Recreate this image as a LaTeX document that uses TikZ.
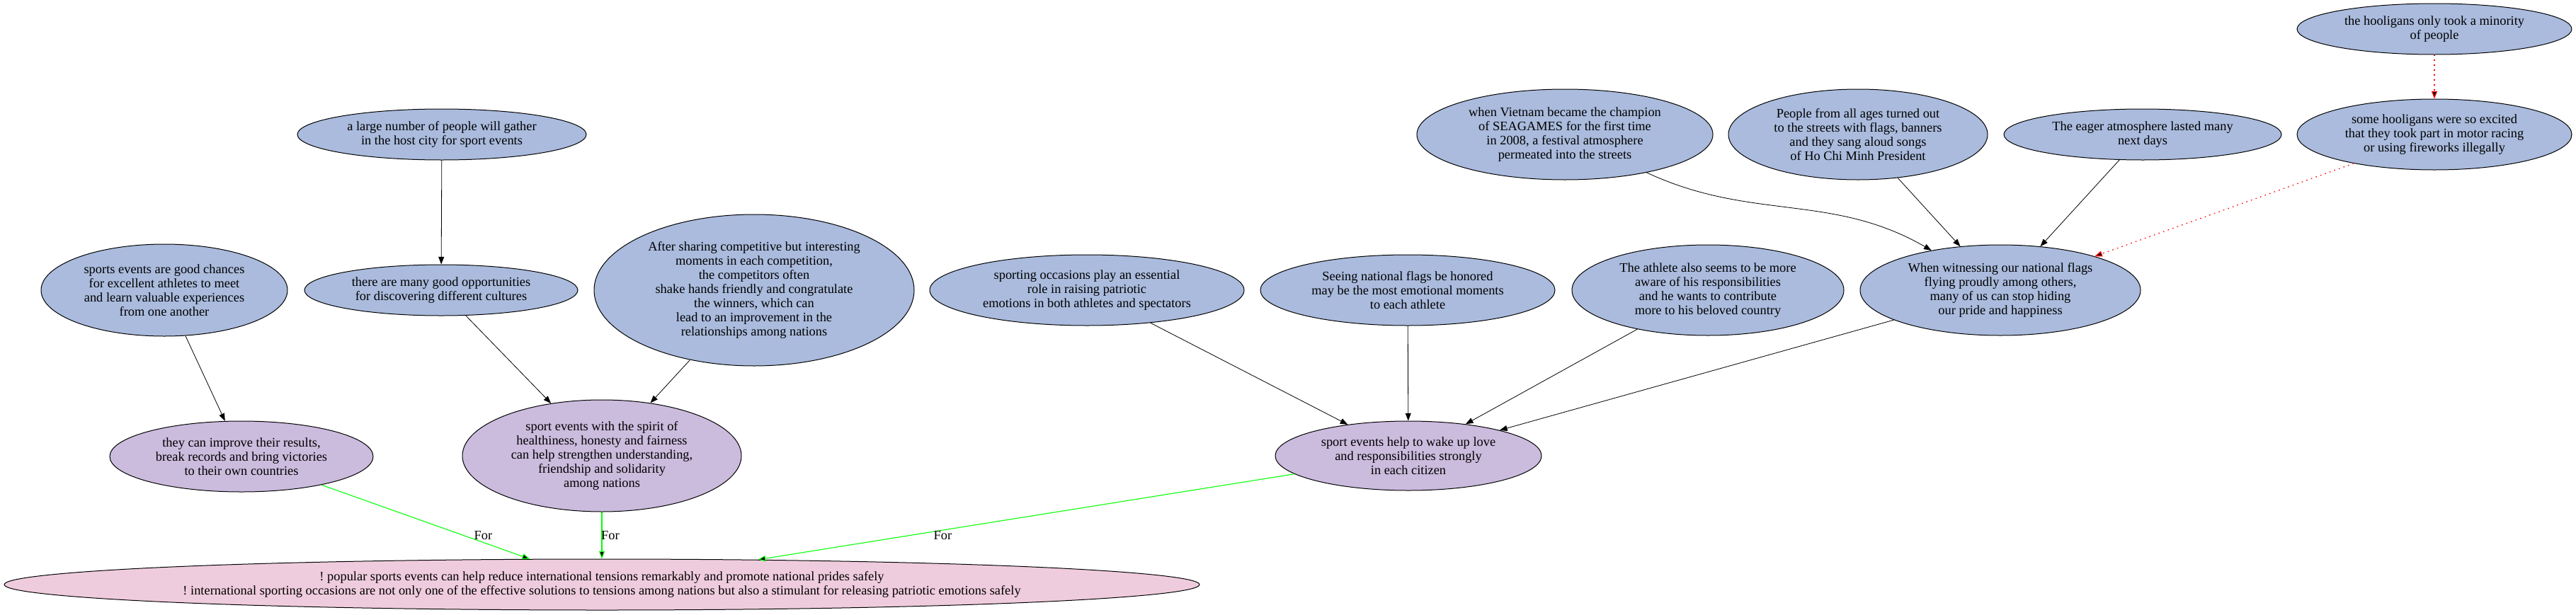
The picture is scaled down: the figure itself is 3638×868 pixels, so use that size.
\documentclass[tikz,border=0pt]{standalone}
\usepackage{fontspec}
\setmainfont{Liberation Serif}
\usetikzlibrary{shapes.geometric,arrows.meta}
\frenchspacing

\definecolor{reasonblue}{RGB}{170,187,221}
\definecolor{claimlilac}{RGB}{203,187,221}
\definecolor{topicpink}{RGB}{239,204,221}

\begin{document}
\begin{tikzpicture}[x=0.75pt, y=0.75pt,
    every node/.style={font=\fontsize{13.8}{15}\selectfont, align=center},
    bubble/.style={shape=ellipse, draw=black, inner sep=0pt, line width=0.75pt},
    reason/.style={bubble, fill=reasonblue},
    claim/.style={bubble, fill=claimlilac},
    topic/.style={bubble, fill=topicpink},
    >={Triangle[length=8pt, width=6pt]},
    arc/.style={->, line width=0.6pt},
    forarc/.style={->, draw={rgb,255:red,0;green,255;blue,0}, line width=0.8pt},
    againstarc/.style={->, draw=red, line width=0.9pt, dash pattern=on 1.2pt off 4pt}]
          \useasboundingbox (0,0) rectangle (3638,-868);

          % nodes
          \node[reason, minimum width=291pt, minimum height=54pt] at (3438,-41)
          (minority) {the hooligans only took a minority\\of people};
          \node[reason, minimum width=291pt, minimum height=75pt] at (3438,-190)
          (excited) {some hooligans were so excited\\that they took part in motor racing\\or using fireworks illegally};
          \node[reason, minimum width=294pt, minimum height=54pt] at (3026,-190)
          (eager) {The eager atmosphere lasted many\\next days};
          \node[reason, minimum width=274.5pt, minimum height=96pt] at (2624,-190)
          (people) {People from all ages turned out\\to the streets with flags, banners\\and they sang aloud songs\\of Ho Chi Minh President};
          \node[reason, minimum width=313.5pt, minimum height=96pt] at (2210,-190)
          (vietnam) {when Vietnam became the champion\\of SEAGAMES for the first time\\in 2008, a festival atmosphere\\permeated into the streets};
          \node[reason, minimum width=306pt, minimum height=54pt] at (624,-190)
          (gather) {a large number of people will gather\\in the host city for sport events};

          \node[reason, minimum width=261pt, minimum height=97.5pt] at (232,-410)
          (chances) {sports events are good chances\\for excellent athletes to meet\\and learn valuable experiences\\from one another};
          \node[reason, minimum width=289.5pt, minimum height=54pt] at (623,-410)
          (cultures) {there are many good opportunities\\for discovering different cultures};
          \node[reason, minimum width=339pt, minimum height=160.5pt] at (1065,-410)
          (handshake) {After sharing competitive but interesting\\moments in each competition,\\the competitors often\\shake hands friendly and congratulate\\the winners, which can\\lead to an improvement in the\\relationships among nations};
          \node[reason, minimum width=333pt, minimum height=75pt] at (1535,-410)
          (occasions) {sporting occasions play an essential\\role in raising patriotic\\emotions in both athletes and spectators};
          \node[reason, minimum width=312pt, minimum height=75pt] at (1988,-410)
          (flags) {Seeing national flags be honored\\may be the most emotional moments\\to each athlete};
          \node[reason, minimum width=288pt, minimum height=96pt] at (2412,-410)
          (athlete) {The athlete also seems to be more\\aware of his responsibilities\\and he wants to contribute\\more to his beloved country};
          \node[reason, minimum width=297pt, minimum height=96pt] at (2825,-410)
          (witness) {When witnessing our national flags\\flying proudly among others,\\many of us can stop hiding\\our pride and happiness};

          \node[claim, minimum width=279pt, minimum height=75pt] at (341,-645)
          (improve) {they can improve their results,\\break records and bring victories\\to their own countries};
          \node[claim, minimum width=295.5pt, minimum height=118.5pt] at (850,-644)
          (spirit) {sport events with the spirit of\\healthiness, honesty and fairness\\can help strengthen understanding,\\friendship and solidarity\\among nations};
          \node[claim, minimum width=282pt, minimum height=73.5pt] at (1989,-644)
          (wakeup) {sport events help to wake up love\\and responsibilities strongly\\in each citizen};

          \node[topic, minimum width=1266pt, minimum height=54pt] at (850,-826)
          (main) {! popular sports events can help reduce international tensions remarkably and promote national prides safely\\! international sporting occasions are not only one of the effective solutions to tensions among nations but also a stimulant for releasing patriotic emotions safely};

          % arcs
          \draw[arc]
          (gather) edge (cultures)
          (chances) edge (improve)
          (cultures) edge (spirit)
          (handshake) edge (spirit)
          (occasions) edge (wakeup)
          (flags) edge (wakeup)
          (athlete) edge (wakeup)
          (witness) edge (wakeup)
          (vietnam) edge[out=-25, in=150] (witness)
          (people) edge (witness)
          (eager) edge (witness)
          ;
          \draw[againstarc]
          (minority) edge (excited)
          (excited) edge (witness)
          ;
          \draw[forarc]
          (improve) edge node[pos=0.686, xshift=20pt, text=black] {For} (main)
          (spirit) edge node[pos=0.507, xshift=9pt, text=black] {For} (main)
          (wakeup) edge node[pos=0.719, xshift=36pt, text=black] {For} (main)
          ;
        \end{tikzpicture}
\end{document}
